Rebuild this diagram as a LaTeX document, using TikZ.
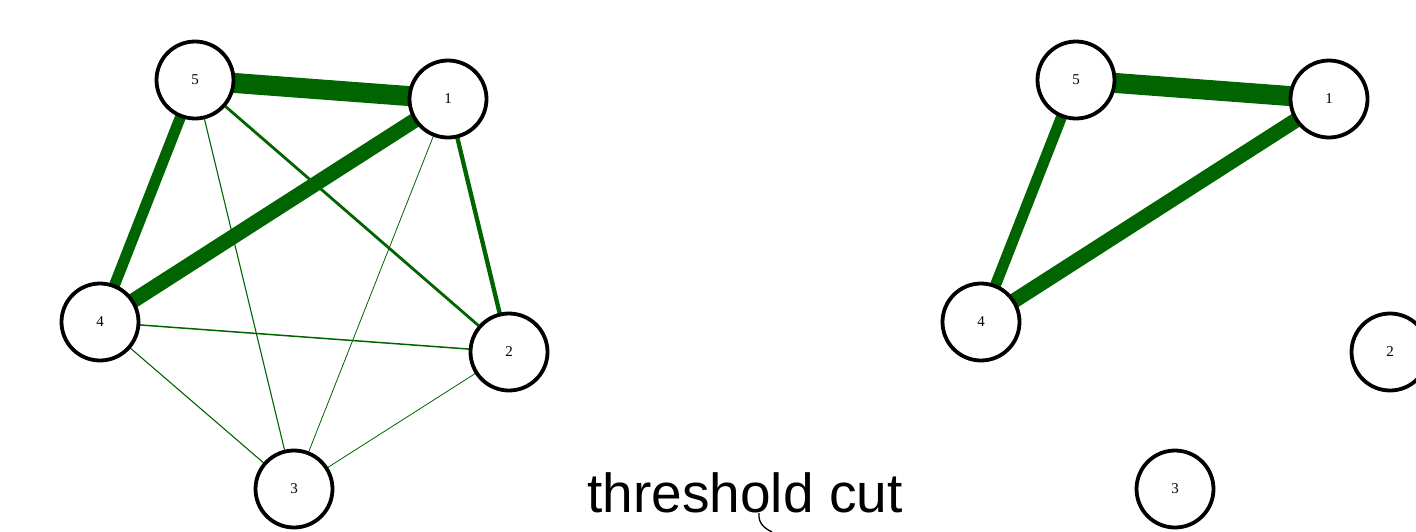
\documentclass[tikz,border=0pt]{standalone}
\usepackage{fontspec}
\setmainfont{Liberation Serif}
\newfontfamily\labelsans{Liberation Sans}
\begin{document}
\begin{tikzpicture}[x=1pt,y=-1pt,
  vert/.style={circle,draw=black,line width=3.8pt,fill=white,minimum size=77pt,inner sep=0pt,font=\fontsize{15}{15}\selectfont},
  edge/.style={draw=eg,line cap=butt}]
\definecolor{eg}{RGB}{0,100,0}
\useasboundingbox (0,0) rectangle (1416,531);
% coordinates
\coordinate (L5) at (195,80);
\coordinate (L1) at (448,99);
\coordinate (L4) at (100,322);
\coordinate (L2) at (509,352);
\coordinate (L3) at (294,489);
\coordinate (R5) at (1076,80);
\coordinate (R1) at (1329,99);
\coordinate (R4) at (981,322);
\coordinate (R2) at (1390,352);
\coordinate (R3) at (1175,489);
% left edges
\draw[edge,line width=20pt] (L5) -- (L1);
\draw[edge,line width=15pt] (L1) -- (L4);
\draw[edge,line width=11pt] (L5) -- (L4);
\draw[edge,line width=4.3pt] (L1) -- (L2);
\draw[edge,line width=2.8pt] (L5) -- (L2);
\draw[edge,line width=1.5pt] (L4) -- (L2);
\draw[edge,line width=1.1pt] (L5) -- (L3);
\draw[edge,line width=0.8pt] (L1) -- (L3);
\draw[edge,line width=1.1pt] (L4) -- (L3);
\draw[edge,line width=0.8pt] (L3) -- (L2);
% right edges
\draw[edge,line width=20pt] (R5) -- (R1);
\draw[edge,line width=15pt] (R1) -- (R4);
\draw[edge,line width=11pt] (R5) -- (R4);
% nodes
\node[vert] (n5) at (L5) {5};
\node[vert] (n1) at (L1) {1};
\node[vert] (n4) at (L4) {4};
\node[vert] (n2) at (L2) {2};
\node[vert] (n3) at (L3) {3};
\node[vert] (m5) at (R5) {5};
\node[vert] (m1) at (R1) {1};
\node[vert] (m4) at (R4) {4};
\node[vert] (m2) at (R2) {2};
\node[vert] (m3) at (R3) {3};
% label
\node[anchor=base,font=\labelsans\fontsize{55}{55}\selectfont,inner sep=0pt] (cut) at (745,512) {threshold cut};
\coordinate (c1) at (759,513);
\coordinate (c2) at (772,532);
\draw[line width=1.3pt] (c1) .. controls (758,523) and (764,528) .. (c2);
\end{tikzpicture}
\end{document}
